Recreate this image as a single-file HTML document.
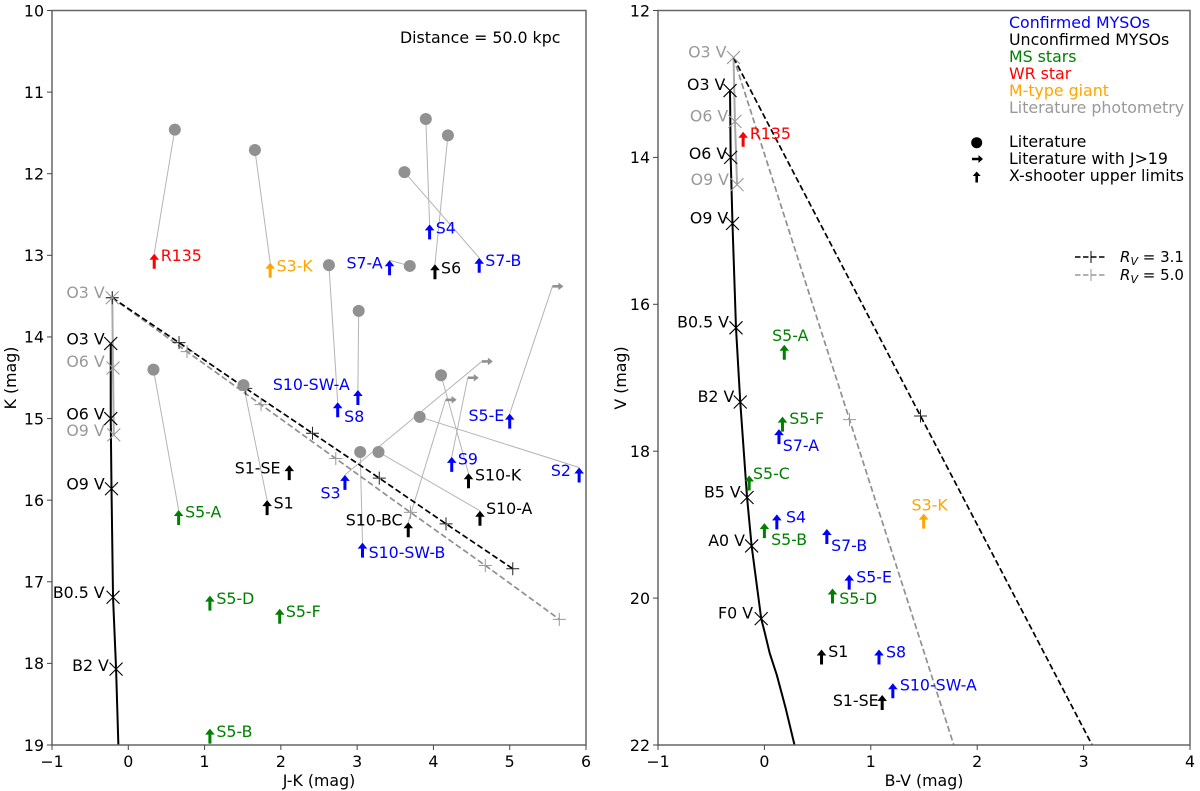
<!DOCTYPE html>
<html>
<head>
<meta charset="utf-8">
<style>
html,body{margin:0;padding:0;background:#fff;}
svg{display:block;font-family:"DejaVu Sans","Liberation Sans",sans-serif;}
text{font-size:15.8px;}
text.rv{font-size:15px;}
</style>
</head>
<body>
<svg id="chart" width="1200" height="791" viewBox="0 0 1200 791" xmlns="http://www.w3.org/2000/svg">
  <defs>
    <clipPath id="clip-left"><rect x="52" y="10.5" width="534" height="734.5"/></clipPath>
    <clipPath id="clip-right"><rect x="658" y="10.5" width="532" height="734.5"/></clipPath>
  </defs>
  <g id="left-panel"></g>
  <g id="right-panel"></g>

  <text x="400" y="43">Distance = 50.0 kpc</text>
  <text x="319" y="786" text-anchor="middle">J-K (mag)</text>
  <text x="924" y="786" text-anchor="middle">B-V (mag)</text>
  <text transform="translate(16,378) rotate(-90)" text-anchor="middle">K (mag)</text>
  <text transform="translate(626,378) rotate(-90)" text-anchor="middle">V (mag)</text>

  <g>
    <text x="1009" y="28" fill="#0000ff">Confirmed MYSOs</text>
    <text x="1009" y="45" fill="#000000">Unconfirmed MYSOs</text>
    <text x="1009" y="62" fill="#008000">MS stars</text>
    <text x="1009" y="79" fill="#ff0000">WR star</text>
    <text x="1009" y="96" fill="#ffa500">M-type giant</text>
    <text x="1009" y="113" fill="#999999">Literature photometry</text>
  </g>
  <g>
    <circle cx="976.7" cy="142.7" r="5.5" fill="#000"/>
    <path d="M972 157.7V160.3H978.5V163L983 159L978.5 155V157.7Z" fill="#000"/>
    <path d="M975.4 182.5V176H972.7L976.7 171.5L980.7 176H978V182.5Z" fill="#000"/>
    <text x="1009" y="147">Literature</text>
    <text x="1009" y="164">Literature with J&gt;19</text>
    <text x="1009" y="181">X-shooter upper limits</text>
  </g>
  <g>
    <line x1="1075" y1="257" x2="1107" y2="257" stroke="#000" stroke-width="1.6" stroke-dasharray="5.5,2.5"/>
    <path d="M1091 251V263" stroke="#000" stroke-width="1"/>
    <line x1="1075" y1="275" x2="1107" y2="275" stroke="#999" stroke-width="1.6" stroke-dasharray="5.5,2.5"/>
    <path d="M1091 269V281" stroke="#999" stroke-width="1"/>
    <text class="rv" x="1120" y="262"><tspan font-style="italic">R</tspan><tspan font-style="italic" font-size="11" dy="3">V</tspan><tspan dy="-3"> = 3.1</tspan></text>
    <text class="rv" x="1120" y="280"><tspan font-style="italic">R</tspan><tspan font-style="italic" font-size="11" dy="3">V</tspan><tspan dy="-3"> = 5.0</tspan></text>
  </g>
</svg>

<script>
// ---- Left panel data (J-K vs K) ----
const leftXTicks = [-1,0,1,2,3,4,5,6];
const leftYTicks = [10,11,12,13,14,15,16,17,18,19];
const leftTrackTypes = ['O3 V','O6 V','O9 V','B0.5 V','B2 V',''];
const leftTrackJK = [-0.23,-0.23,-0.22,-0.20,-0.16,-0.13];
const leftTrackK = [14.08,15.00,15.86,17.19,18.07,19.00];
const leftTrackLabelJK = [-0.31,-0.31,-0.31,-0.31,-0.255];
const leftTrackLabelK = [14.02,14.94,15.80,17.13,18.02];
const leftGrayTypes = ['O3 V','O6 V','O9 V'];
const leftGrayJK = [-0.21,-0.20,-0.19];
const leftGrayK = [13.52,14.38,15.20];
const leftGrayLabelJK = [-0.31,-0.31,-0.31];
const leftGrayLabelK = [13.45,14.30,15.14];
const leftRv31JK = [-0.21,0.665,1.54,2.415,3.29,4.165,5.04];
const leftRv31K = [13.52,14.07,14.63,15.18,15.73,16.29,16.84];
const leftRv50JK = [-0.21,0.77,1.74,2.72,3.70,4.68,5.65];
const leftRv50K = [13.52,14.18,14.83,15.49,16.15,16.80,17.46];
const leftNames = ['R135','S3-K','S7-A','S4','S6','S7-B','S10-SW-A','S8','S5-E','S2','S9','S10-K','S10-A','S1-SE','S1','S5-A','S3','S10-BC','S10-SW-B','S5-D','S5-F','S5-B'];
const leftClasses = ['wr','giant','conf','conf','unconf','conf','conf','conf','conf','conf','conf','unconf','unconf','unconf','unconf','ms','conf','unconf','conf','ms','ms','ms'];
const leftJK = [0.34,1.86,3.425,3.95,4.02,4.60,3.01,2.745,5.00,5.91,4.24,4.46,4.61,2.11,1.82,0.66,2.84,3.67,3.07,1.07,1.985,1.07];
const leftK = [12.98,13.09,13.06,12.62,13.11,13.03,14.65,14.80,14.94,15.60,15.47,15.67,16.13,15.57,16.00,16.12,15.69,16.27,16.52,17.17,17.33,18.80];
const leftLabelJK = [0.425,1.945,2.86,4.03,4.10,4.68,1.895,2.83,4.46,5.54,4.32,4.545,4.69,1.395,1.905,0.745,2.52,2.85,3.15,1.155,2.065,1.155];
const leftLabelK = [13.00,13.13,13.09,12.66,13.15,13.06,14.58,14.97,14.96,15.63,15.49,15.69,16.10,15.60,16.03,16.14,15.91,16.24,16.64,17.20,17.36,18.83];
const litTargets = ['R135','S3-K','S4','S6','S7-B','S7-A','S8','S10-SW-A','S5-A','S1','S10-K','S2','S10-SW-B','S10-A'];
const litJK = [0.61,1.66,3.90,4.19,3.62,3.69,2.63,3.02,0.33,1.51,4.10,3.82,3.04,3.28];
const litK = [11.46,11.71,11.33,11.53,11.98,13.13,13.12,13.68,14.40,14.59,14.47,14.98,15.41,15.41];
const limTargets = ['S5-E','S3','S9','S10-BC'];
const limJK = [5.56,4.635,4.45,4.16];
const limK = [13.38,14.30,14.50,14.77];

// ---- Right panel data (B-V vs V) ----
const rightXTicks = [-1,0,1,2,3,4];
const rightYTicks = [12,14,16,18,20,22];
const rightTrackTypes = ['O3 V','O6 V','O9 V','B0.5 V','B2 V','B5 V','A0 V','F0 V'];
const rightTrackBV = [-0.323,-0.317,-0.30,-0.267,-0.227,-0.163,-0.12,-0.03];
const rightTrackV = [13.09,14.00,14.90,16.32,17.33,18.63,19.29,20.28];
const rightTrackLabelBV = [-0.367,-0.35,-0.34,-0.333,-0.283,-0.223,-0.183,-0.107];
const rightTrackLabelV = [13.00,13.94,14.82,16.24,17.25,18.55,19.21,20.20];
const rightTailBV = [0.00,0.05,0.117,0.20,0.283];
const rightTailV = [20.45,20.75,21.05,21.50,22.00];
const rightGrayTypes = ['O3 V','O6 V','O9 V'];
const rightGrayBV = [-0.29,-0.277,-0.257];
const rightGrayV = [12.64,13.51,14.37];
const rightGrayLabelBV = [-0.357,-0.34,-0.333];
const rightGrayLabelV = [12.56,13.43,14.30];
const rightRv31BV = [-0.29,1.467,3.08];
const rightRv31V = [12.64,17.52,22.00];
const rightRv50BV = [-0.29,0.80,1.78];
const rightRv50V = [12.64,17.57,22.00];
const rightNames = ['R135','S5-A','S5-F','S7-A','S5-C','S4','S5-B','S7-B','S3-K','S5-E','S5-D','S1','S8','S10-SW-A','S1-SE'];
const rightClasses = ['wr','ms','ms','conf','ms','conf','ms','conf','giant','conf','ms','unconf','conf','conf','unconf'];
const rightBV = [-0.20,0.187,0.17,0.137,-0.143,0.117,0.00,0.587,1.497,0.797,0.64,0.537,1.077,1.207,1.107];
const rightV = [13.65,16.55,17.53,17.70,18.33,18.86,18.98,19.06,18.85,19.68,19.87,20.70,20.70,21.16,21.32];
const rightLabelBV = [-0.137,0.073,0.233,0.173,-0.107,0.203,0.063,0.627,1.383,0.863,0.703,0.60,1.143,1.273,0.643];
const rightLabelV = [13.67,16.42,17.55,17.92,18.30,18.89,19.20,19.28,18.73,19.71,20.00,20.72,20.73,21.18,21.39];

const classColor = {conf:'#0000ff',unconf:'#000000',ms:'#008000',wr:'#ff0000',giant:'#ffa500'};
const NS = 'http://www.w3.org/2000/svg';

function make(parent, tag, attrs) {
  const el = document.createElementNS(NS, tag);
  Object.keys(attrs).forEach(function (k) { el.setAttribute(k, attrs[k]); });
  parent.appendChild(el);
  return el;
}
function polyPoints(xs, ys, fx, fy) {
  return xs.map(function (v, i) { return fx(v).toFixed(2) + ',' + fy(ys[i]).toFixed(2); }).join(' ');
}
function slug(s) { return s.toLowerCase().replace(/[^a-z0-9]+/g, '-'); }

function drawAxes(g, fx, fy, xTicks, yTicks, box, prefix) {
  const frame = make(g, 'rect', {x: box.l, y: box.t, width: box.r - box.l, height: box.b - box.t, fill: 'none', stroke: '#666', 'stroke-width': 1.5});
  
  
  xTicks.forEach(function (t) {
    const tick = make(g, 'line', {x1: fx(t), x2: fx(t), y1: box.b, y2: box.b + 5, stroke: '#444', 'stroke-width': 1});
    
    
    const lab = make(g, 'text', {x: fx(t), y: box.b + 22, 'text-anchor': 'middle'});
    lab.textContent = String(t).replace('-', '\u2212');
    
    
  });
  yTicks.forEach(function (t) {
    const tick = make(g, 'line', {x1: box.l - 5, x2: box.l, y1: fy(t), y2: fy(t), stroke: '#444', 'stroke-width': 1});
    
    
    const lab = make(g, 'text', {x: box.l - 8, y: fy(t) + 5.8, 'text-anchor': 'end'});
    lab.textContent = String(t);
    
    
  });
}
function drawCross(g, x, y, color, name) {
  const s = 6.5;
  const p = make(g, 'path', {d: 'M' + (x - s) + ' ' + (y - s) + 'L' + (x + s) + ' ' + (y + s) + 'M' + (x - s) + ' ' + (y + s) + 'L' + (x + s) + ' ' + (y - s), stroke: color, 'stroke-width': 1.1, fill: 'none'});
  
  
}
function drawPlus(g, x, y, color, name) {
  const s = 6.5;
  const p = make(g, 'path', {d: 'M' + (x - s) + ' ' + y + 'L' + (x + s) + ' ' + y + 'M' + x + ' ' + (y - s) + 'L' + x + ' ' + (y + s), stroke: color, 'stroke-width': 1, fill: 'none'});
  
  
}
function drawUpArrow(g, x, y, color, name) {
  const d = 'M' + (x - 1.5) + ' ' + (y + 15) + 'V' + (y + 6) + 'H' + (x - 4.8) + 'L' + x + ' ' + y + 'L' + (x + 4.8) + ' ' + (y + 6) + 'H' + (x + 1.5) + 'V' + (y + 15) + 'Z';
  const p = make(g, 'path', {d: d, fill: color});
  
  
}
function drawRightArrow(g, x, y, color, name) {
  const d = 'M' + x + ' ' + (y - 1.3) + 'H' + (x + 6) + 'V' + (y - 3.8) + 'L' + (x + 11) + ' ' + y + 'L' + (x + 6) + ' ' + (y + 3.8) + 'V' + (y + 1.3) + 'H' + x + 'Z';
  const p = make(g, 'path', {d: d, fill: color});
  
  
}
function drawLabel(g, x, y, text, color, anchor, name) {
  const t = make(g, 'text', {x: x, y: y + 5.8, fill: color, 'text-anchor': anchor});
  t.textContent = text;
  
  
}

// ---- Left panel ----
(function () {
  const g = document.getElementById('left-panel');
  const box = {l: 52, r: 586, t: 10.5, b: 745};
  const fx = function (v) { return box.l + (v + 1) * (box.r - box.l) / 7; };
  const fy = function (v) { return box.t + (v - 10) * (box.b - box.t) / 9; };
  const clip = make(g, 'g', {'clip-path': 'url(#clip-left)'});
  
  

  litTargets.forEach(function (name, i) {
    const j = leftNames.indexOf(name);
    const l = make(clip, 'line', {x1: fx(litJK[i]), y1: fy(litK[i]), x2: fx(leftJK[j]), y2: fy(leftK[j]), stroke: '#b4b4b4', 'stroke-width': 1});
    
    
  });
  limTargets.forEach(function (name, i) {
    const j = leftNames.indexOf(name);
    const l = make(clip, 'line', {x1: fx(limJK[i]), y1: fy(limK[i]), x2: fx(leftJK[j]), y2: fy(leftK[j]), stroke: '#b4b4b4', 'stroke-width': 1});
    
    
  });

  const grayTrack = make(clip, 'polyline', {points: polyPoints(leftGrayJK, leftGrayK, fx, fy), fill: 'none', stroke: '#aaaaaa', 'stroke-width': 2});
  
  
  const blackTrack = make(clip, 'polyline', {points: polyPoints(leftTrackJK, leftTrackK, fx, fy), fill: 'none', stroke: '#000', 'stroke-width': 2});
  
  
  const rv50 = make(clip, 'polyline', {points: polyPoints(leftRv50JK, leftRv50K, fx, fy), fill: 'none', stroke: '#909090', 'stroke-width': 1.7, 'stroke-dasharray': '6,3'});
  
  
  const rv31 = make(clip, 'polyline', {points: polyPoints(leftRv31JK, leftRv31K, fx, fy), fill: 'none', stroke: '#000', 'stroke-width': 1.7, 'stroke-dasharray': '6,3'});
  
  
  leftRv50JK.forEach(function (v, i) { drawPlus(clip, fx(v), fy(leftRv50K[i]), '#999', 'left-rv50-step'); });
  leftRv31JK.forEach(function (v, i) { drawPlus(clip, fx(v), fy(leftRv31K[i]), '#222', 'left-rv31-step'); });

  litJK.forEach(function (v, i) {
    const c = make(clip, 'circle', {cx: fx(v), cy: fy(litK[i]), r: 6, fill: '#919191'});
    
    
  });
  limJK.forEach(function (v, i) { drawRightArrow(clip, fx(v), fy(limK[i]), '#919191', 'literature-limit-' + slug(limTargets[i])); });

  leftGrayJK.forEach(function (v, i) {
    drawCross(g, fx(v), fy(leftGrayK[i]), '#999', 'left-gray-type-marker');
    drawLabel(g, fx(leftGrayLabelJK[i]), fy(leftGrayLabelK[i]), leftGrayTypes[i], '#999999', 'end', 'left-gray-type-label');
  });
  leftTrackLabelJK.forEach(function (v, i) {
    drawCross(g, fx(leftTrackJK[i]), fy(leftTrackK[i]), '#000', 'left-type-marker');
    drawLabel(g, fx(v), fy(leftTrackLabelK[i]), leftTrackTypes[i], '#000', 'end', 'left-type-label');
  });
  leftNames.forEach(function (name, i) {
    const col = classColor[leftClasses[i]];
    drawUpArrow(clip, fx(leftJK[i]), fy(leftK[i]), col, 'left-limit-' + slug(name));
    drawLabel(g, fx(leftLabelJK[i]), fy(leftLabelK[i]), name, col, 'start', 'left-label-' + slug(name));
  });
  drawAxes(g, fx, fy, leftXTicks, leftYTicks, box, 'left');
})();

// ---- Right panel ----
(function () {
  const g = document.getElementById('right-panel');
  const box = {l: 658, r: 1190, t: 10.5, b: 745};
  const fx = function (v) { return box.l + (v + 1) * (box.r - box.l) / 5; };
  const fy = function (v) { return box.t + (v - 12) * (box.b - box.t) / 10; };
  const clip = make(g, 'g', {'clip-path': 'url(#clip-right)'});
  
  

  const grayTrack = make(clip, 'polyline', {points: polyPoints(rightGrayBV, rightGrayV, fx, fy), fill: 'none', stroke: '#aaaaaa', 'stroke-width': 2});
  
  
  const blackTrack = make(clip, 'polyline', {points: polyPoints(rightTrackBV.concat(rightTailBV), rightTrackV.concat(rightTailV), fx, fy), fill: 'none', stroke: '#000', 'stroke-width': 2});
  
  
  const rv50 = make(clip, 'polyline', {points: polyPoints(rightRv50BV, rightRv50V, fx, fy), fill: 'none', stroke: '#909090', 'stroke-width': 1.7, 'stroke-dasharray': '6,3'});
  
  
  const rv31 = make(clip, 'polyline', {points: polyPoints(rightRv31BV, rightRv31V, fx, fy), fill: 'none', stroke: '#000', 'stroke-width': 1.7, 'stroke-dasharray': '6,3'});
  
  
  drawPlus(clip, fx(rightRv50BV[1]), fy(rightRv50V[1]), '#999', 'right-rv50-step');
  drawPlus(clip, fx(rightRv31BV[1]), fy(rightRv31V[1]), '#222', 'right-rv31-step');

  rightGrayBV.forEach(function (v, i) {
    drawCross(g, fx(v), fy(rightGrayV[i]), '#999', 'right-gray-type-marker');
    drawLabel(g, fx(rightGrayLabelBV[i]), fy(rightGrayLabelV[i]), rightGrayTypes[i], '#999999', 'end', 'right-gray-type-label');
  });
  rightTrackBV.forEach(function (v, i) {
    drawCross(g, fx(v), fy(rightTrackV[i]), '#000', 'right-type-marker');
    drawLabel(g, fx(rightTrackLabelBV[i]), fy(rightTrackLabelV[i]), rightTrackTypes[i], '#000', 'end', 'right-type-label');
  });
  rightNames.forEach(function (name, i) {
    const col = classColor[rightClasses[i]];
    drawUpArrow(clip, fx(rightBV[i]), fy(rightV[i]), col, 'right-limit-' + slug(name));
    drawLabel(g, fx(rightLabelBV[i]), fy(rightLabelV[i]), name, col, 'start', 'right-label-' + slug(name));
  });
  drawAxes(g, fx, fy, rightXTicks, rightYTicks, box, 'right');
})();
</script>
</body>
</html>
